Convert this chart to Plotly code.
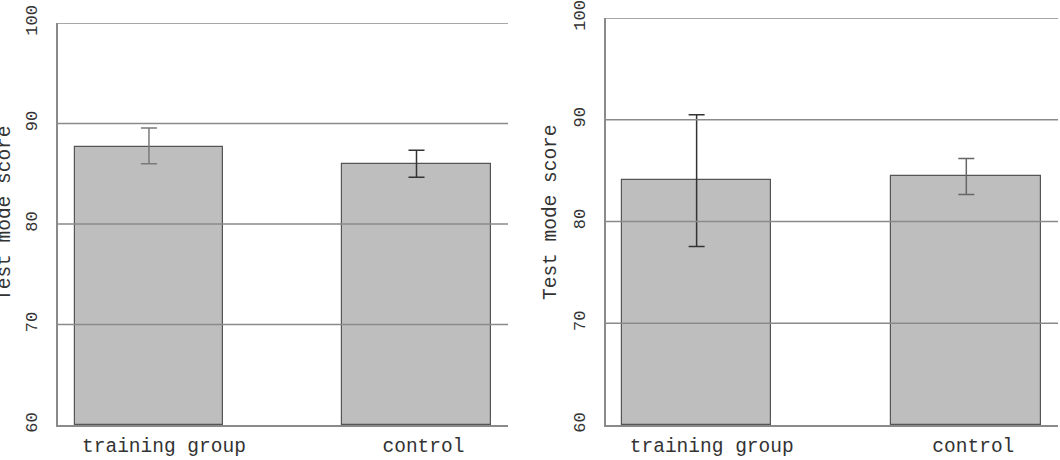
import plotly.graph_objects as go

categories = ["training group", "control"]
x_pos = [0, 1]
# label anchor positions along x (labels sit slightly right of bar centres in the reference)
label_pos = [0.056, 1.026]

# Left panel
left_means = [87.7, 86.0]
left_err_plus = [1.85, 1.35]
left_err_minus = [1.7, 1.35]

# Right panel
right_means = [84.05, 84.45]
right_err_plus = [6.45, 1.75]
right_err_minus = [6.5, 1.8]

y_ticks = [60, 70, 80, 90, 100]
grid_vals = [70, 80, 90, 100]

FONT = "Liberation Mono, Courier New, monospace"
TXT = "#333333"
BAR_FILL = "#bebebe"
BAR_LINE = "#555555"
GRID = "#8a8a8a"

fig = go.Figure()

def add_panel(means, eplus, eminus, xa, ya, ecolors):
    for i in range(len(means)):
        fig.add_trace(go.Bar(
            x=[x_pos[i]], y=[means[i] - 60], base=60,
            width=0.555,
            marker=dict(color=BAR_FILL, line=dict(color=BAR_LINE, width=1.2)),
            error_y=dict(type="data", symmetric=False,
                         array=[eplus[i]], arrayminus=[eminus[i]],
                         color=ecolors[i], thickness=1.5, width=8),
            xaxis=xa, yaxis=ya, showlegend=False, hoverinfo="skip",
        ))

add_panel(left_means, left_err_plus, left_err_minus, "x", "y", ["#7a7a7a", "#333333"])
add_panel(right_means, right_err_plus, right_err_minus, "x2", "y2", ["#333333", "#666666"])

yaxis_common = dict(
    showgrid=False, zeroline=False, showline=True, linecolor=GRID, linewidth=1.5,
    tickfont=dict(family=FONT, size=17, color=TXT), automargin=False,
    range=[60, 100], tickvals=y_ticks, tickangle=-90, ticks="", ticklabelstandoff=12,
)
xaxis_common = dict(
    tickvals=label_pos, ticktext=categories, ticks="",
    tickfont=dict(family=FONT, size=19.5, color=TXT),
    showgrid=False, zeroline=False, showline=True, linecolor=GRID, linewidth=1.5,
    ticklabelstandoff=2, automargin=False,
)

fig.update_layout(
    width=1060, height=460,
    margin=dict(l=0, r=0, t=0, b=0, autoexpand=False),
    paper_bgcolor="white", plot_bgcolor="white",
    bargap=0,
    xaxis=dict(domain=[58/1060, 508/1060], range=[-0.34, 1.342], anchor="y", **xaxis_common),
    yaxis=dict(domain=[1-425/460, 1-23/460], anchor="x", **yaxis_common),
    xaxis2=dict(domain=[606/1060, 1058/1060], range=[-0.336, 1.34], anchor="y2", **xaxis_common),
    yaxis2=dict(domain=[1-425/460, 1-18/460], anchor="x2", **yaxis_common),
)

shapes = []
for xr, yr in [("x domain", "y"), ("x2 domain", "y2")]:
    for g in grid_vals:
        shapes.append(dict(type="line", xref=xr, yref=yr, x0=0, x1=1, y0=g, y1=g,
                           line=dict(color=GRID, width=1.5), layer="above"))
fig.update_layout(shapes=shapes)

fig.add_annotation(text="Test mode score", textangle=-90, xref="paper", yref="paper",
                   x=5/1060, y=1-213/460, xanchor="center", yanchor="middle",
                   showarrow=False, font=dict(family=FONT, size=19.5, color=TXT))
fig.add_annotation(text="Test mode score", textangle=-90, xref="paper", yref="paper",
                   x=551/1060, y=1-212/460, xanchor="center", yanchor="middle",
                   showarrow=False, font=dict(family=FONT, size=19.5, color=TXT))

fig.write_html("out.html")
